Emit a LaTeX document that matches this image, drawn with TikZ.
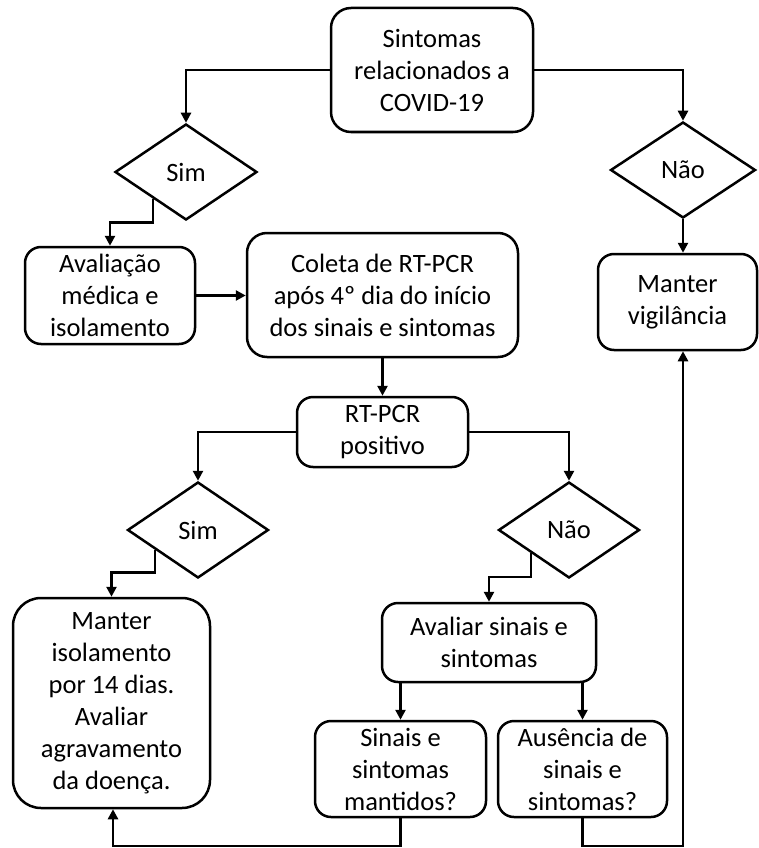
\documentclass[tikz,border=0pt]{standalone}
\usepackage{fontspec}
\setmainfont{Carlito}
\usetikzlibrary{shapes.geometric,arrows.meta,calc}
\begin{document}
\begin{tikzpicture}[x=1pt,y=-1pt,
  box/.style={draw, line width=2.5pt, rounded corners=16pt, align=center, inner sep=0pt, font=\fontsize{26.5}{32}\selectfont},
  dia/.style={draw, diamond, line width=2.5pt, inner sep=0pt, font=\fontsize{26.5}{32}\selectfont},
  arr/.style={line width=2.5pt, -{Triangle[width=10pt,length=10pt]}}]
\useasboundingbox (0,0) rectangle (759,848);
\node[box, minimum width=202pt, minimum height=124pt, rounded corners=20pt] (top) at (432,70) {Sintomas\\relacionados a\\COVID-19};
\node[dia, minimum width=142pt, minimum height=96pt] (sim1) at (186,172) {Sim};
\node[dia, minimum width=145pt, minimum height=96pt] (nao1) at (683,170) {Não};
\node[box, minimum width=170pt, minimum height=97pt] (aval) at (110,295.5) {Avaliação\\médica e\\isolamento};
\node[box, minimum width=271pt, minimum height=124pt, rounded corners=20pt] (coleta) at (382.5,295) {Coleta de RT-PCR\\após 4º dia do início\\dos sinais e sintomas};
\node[box, minimum width=159pt, minimum height=96pt] (vig) at (677.5,302) {Manter\\vigilância};
\node[box, minimum width=171pt, minimum height=70pt] (rt) at (382.5,432) {RT-PCR\\positivo};
\node[dia, minimum width=141pt, minimum height=96pt] (sim2) at (198,530) {Sim};
\node[dia, minimum width=141pt, minimum height=96pt] (nao2) at (569,530) {Não};
\node[box, minimum width=197pt, minimum height=210pt, rounded corners=28pt] (iso) at (111.5,703) {Manter\\isolamento\\por 14 dias.\\Avaliar\\agravamento\\da doença.};
\node[box, minimum width=214pt, minimum height=79pt] (avs) at (489,642.5) {Avaliar sinais e\\sintomas};
\node[box, minimum width=171pt, minimum height=96pt] (mant) at (400.5,769) {Sinais e\\sintomas\\mantidos?};
\node[box, minimum width=169pt, minimum height=96pt] (aus) at (582.5,769) {Ausência de\\sinais e\\sintomas?};
% connectors
\draw[arr] (top.west) -| (sim1.north);
\draw[arr] (top.east) -| (nao1.north);
\draw[arr] ($(sim1.west)!0.54!(sim1.south)$) -- ++(0,24) -| (aval.north);
\draw[arr] (aval.east) -- (aval.east -| coleta.west);
\draw[arr] (nao1.south) -- (nao1.south |- vig.north);
\draw[arr] (coleta.south) -- (rt.north);
\draw[arr] (rt.west) -| (sim2.north);
\draw[arr] (rt.east) -| (nao2.north);
\draw[arr] ($(sim2.west)!0.4!(sim2.south)$) -- ++(0,23) -| (iso.north);
\draw[arr] ($(nao2.west)!0.47!(nao2.south)$) -- ++(0,24) -| (avs.north);
\draw[arr] (mant.north |- avs.south) -- (mant.north);
\draw[arr] (aus.north |- avs.south) -- (aus.north);
\coordinate (b1) at (0,846);
\draw[arr] (mant.south) -- (mant.south |- b1) -| ([xshift=1.5pt]iso.south);
\draw[arr] (aus.south) -- (aus.south |- b1) -| (nao1.south |- vig.south);
\end{tikzpicture}
\end{document}
